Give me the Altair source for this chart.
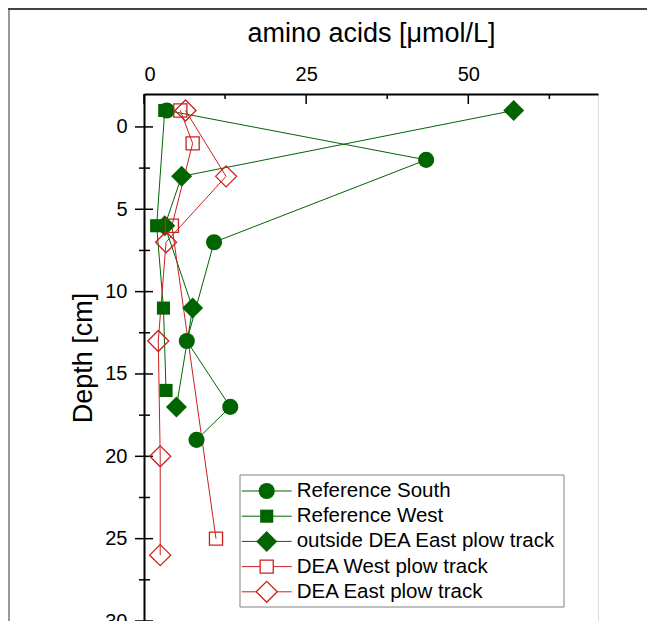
import altair as alt
import pandas as pd

FONT = "Liberation Sans, Arial, sans-serif"
GREEN = "#006400"
RED = "#cc2020"

series = ["Reference South", "Reference West", "outside DEA East plow track",
          "DEA West plow track", "DEA East plow track"]
filled_series = ["Reference South", "Reference West", "outside DEA East plow track"]

south_depth = [-1, 2, 7, 13, 17, 19]
south_val = [3.5, 43.5, 10.8, 6.6, 13.3, 8.1]
west_depth = [-1, 6, 11, 16]
west_val = [3.2, 1.95, 3.0, 3.4]
outside_depth = [-1, 3, 6, 11, 17]
outside_val = [57.0, 5.8, 3.2, 7.5, 5.0]
dea_west_depth = [-1, 1, 6, 25]
dea_west_val = [5.6, 7.5, 4.3, 11.1]
dea_east_depth = [-1, 3, 7, 13, 20, 26]
dea_east_val = [6.4, 12.65, 3.4, 2.2, 2.5, 2.5]

x_major = [0, 25, 50]
x_minor = [12.5, 37.5, 62.5]
y_major = [0, 5, 10, 15, 20, 25, 30]
y_minor = [2.5, 7.5, 12.5, 17.5, 22.5, 27.5]

rows = []
for name, ds, vs in zip(series,
                        [south_depth, west_depth, outside_depth, dea_west_depth, dea_east_depth],
                        [south_val, west_val, outside_val, dea_west_val, dea_east_val]):
    for d, v in zip(ds, vs):
        rows.append({"series": name, "depth": d, "value": v, "filled": name in filled_series})
df = pd.DataFrame(rows)

color_scale = alt.Scale(domain=series, range=[GREEN, GREEN, GREEN, RED, RED])
shape_scale = alt.Scale(domain=series, range=["circle", "square", "diamond", "square", "diamond"])
size_scale = alt.Scale(type="ordinal", domain=series, range=[260, 172, 441, 172, 441])

x_scale = alt.Scale(domain=[0, 70], nice=False, zero=False)
y_scale = alt.Scale(domain=[-2, 30], reverse=True, nice=False, zero=False)

x_axis = alt.Axis(orient="top", values=x_major, ticks=False, tickSize=0, grid=False,
                  labelFontSize=20, labelFont=FONT, labelColor="black", labelPadding=10,
                  title="amino acids [μmol/L]", titleFontSize=27, titleFont=FONT,
                  titleFontWeight="normal", titleColor="black", titlePadding=17,
                  domainColor="black", domainWidth=2)
y_axis = alt.Axis(orient="left", values=y_major, ticks=False, tickSize=0, grid=False,
                  labelFontSize=20, labelFont=FONT, labelColor="black", labelPadding=17,
                  title="Depth [cm]", titleFontSize=27, titleFont=FONT,
                  titleFontWeight="normal", titleColor="black", titlePadding=7,
                  domainColor="black", domainWidth=2)


def X(field="value"):
    return alt.X(f"{field}:Q", scale=x_scale, axis=x_axis, title="amino acids [μmol/L]")


def Y(field="depth"):
    return alt.Y(f"{field}:Q", scale=y_scale, axis=y_axis, title="Depth [cm]")


color_enc = alt.Color("series:N", scale=color_scale, legend=None)
shape_enc = alt.Shape("series:N", scale=shape_scale, legend=None)
size_enc = alt.Size("series:N", scale=size_scale, legend=None)

lines = alt.Chart(df).mark_line(strokeWidth=1).encode(
    x=X(), y=Y(), color=color_enc, detail="series:N", order="depth:Q")

pts_filled = alt.Chart(df).transform_filter(alt.datum.filled == True).mark_point(
    filled=True, opacity=1).encode(x=X(), y=Y(), color=color_enc, shape=shape_enc, size=size_enc)

pts_open = alt.Chart(df).transform_filter(alt.datum.filled == False).mark_point(
    filled=False, opacity=1, strokeWidth=1.3).encode(
    x=X(), y=Y(), color=color_enc, shape=shape_enc, size=size_enc)

ymaj = alt.Chart(pd.DataFrame({"depth": y_major})).mark_rule(color="black", strokeWidth=1.5).encode(
    y=Y(), x=alt.value(-9), x2=alt.value(9))
ymin = alt.Chart(pd.DataFrame({"depth": y_minor})).mark_rule(color="black", strokeWidth=1.5).encode(
    y=Y(), x=alt.value(-5), x2=alt.value(6))
xmaj = alt.Chart(pd.DataFrame({"value": x_major})).mark_rule(color="black", strokeWidth=1.5).encode(
    x=X(), y=alt.value(0), y2=alt.value(10))
xmin = alt.Chart(pd.DataFrame({"value": x_minor})).mark_rule(color="black", strokeWidth=1.5).encode(
    x=X(), y=alt.value(0), y2=alt.value(5))

data_layer = alt.layer(ymaj, ymin, xmaj, xmin, lines, pts_filled, pts_open)

# manual legend
leg_df = pd.DataFrame({"series": series, "row": list(range(len(series))),
                       "filled": [s in filled_series for s in series]})
leg_y = alt.Y("row:Q", scale=alt.Scale(domain=[0, 4], range=[397, 497.8]), axis=None)
one = pd.DataFrame({"a": [0]})

leg_box = alt.Chart(one).mark_rect(fill="white", stroke="#808080", strokeWidth=1).encode(
    x=alt.value(96), x2=alt.value(420), y=alt.value(381), y2=alt.value(513))
leg_lines = alt.Chart(leg_df).mark_rule(strokeWidth=1).encode(
    y=leg_y, x=alt.value(97.7), x2=alt.value(147.7), color=color_enc)
leg_pf = alt.Chart(leg_df).transform_filter(alt.datum.filled == True).mark_point(
    filled=True, opacity=1).encode(x=alt.value(122.7), y=leg_y, color=color_enc,
                                   shape=shape_enc, size=size_enc)
leg_po = alt.Chart(leg_df).transform_filter(alt.datum.filled == False).mark_point(
    filled=False, opacity=1, strokeWidth=1.3, fill="white").encode(
    x=alt.value(122.7), y=leg_y, color=color_enc, shape=shape_enc, size=size_enc)
leg_text = alt.Chart(leg_df).mark_text(align="left", baseline="middle", fontSize=20.5,
                                       font=FONT, color="black").encode(
    x=alt.value(152.7), y=leg_y, text="series:N")

border_left = alt.Chart(one).mark_rule(color="#999999", strokeWidth=2).encode(
    x=alt.value(-135), y=alt.value(-86), y2=alt.value(545))
border_top = alt.Chart(one).mark_rule(color="#444444", strokeWidth=2).encode(
    x=alt.value(-136), x2=alt.value(510), y=alt.value(-85))

legend_layer = alt.layer(border_left, border_top, leg_box, leg_lines, leg_pf, leg_po, leg_text)

chart = alt.layer(data_layer, legend_layer).resolve_scale(y="independent").properties(
    width=454, height=527,
    autosize=alt.AutoSizeParams(type="none"),
    padding={"left": 136, "top": 86, "right": 49, "bottom": 0},
).configure_view(stroke="black", strokeWidth=2).configure(background="white")

chart.save("out.html", embed_options={"renderer": "svg", "actions": False})
